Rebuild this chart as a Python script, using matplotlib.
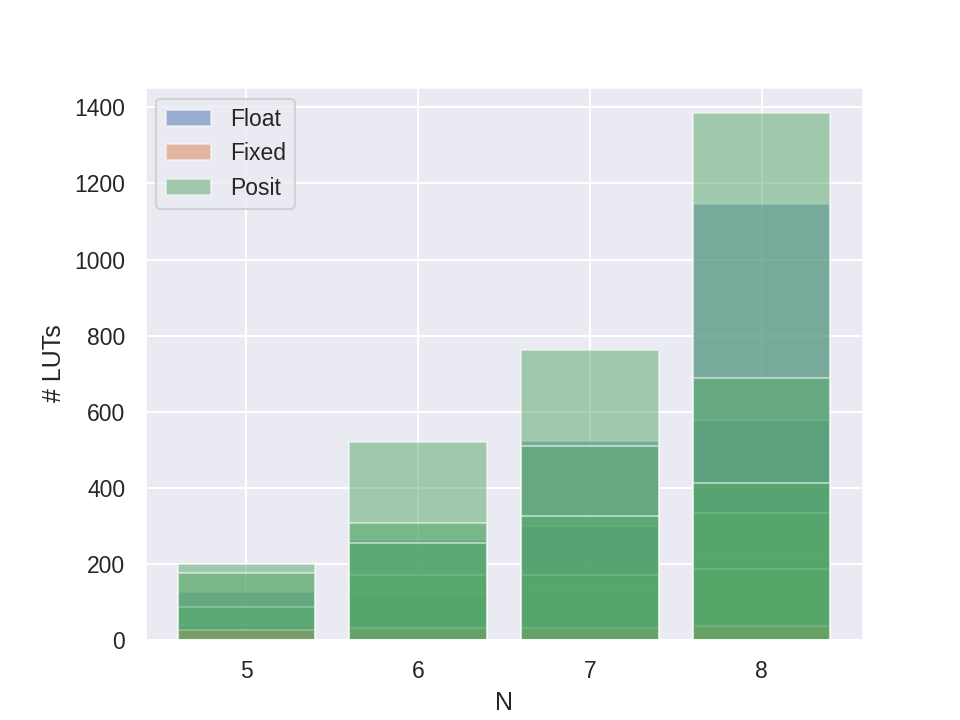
import matplotlib
matplotlib.use("Agg")
import matplotlib.pyplot as plt
import seaborn as sns

sns.set_theme()
plt.rcParams['font.family'] = ['Liberation Sans', 'DejaVu Sans']

# Float configurations (N, #LUTs)
float_n = [5, 5, 6, 6, 7, 7, 7, 8, 8, 8]
float_luts = [127, 39, 263, 118, 523, 299, 127, 1147, 578, 219]

# Fixed configurations
fixed_n = [5, 6, 7, 8]
fixed_luts = [26, 31, 33, 36]

# Posit configurations (drawn in two passes: before / after the fixed bars)
posit_n = [5, 5, 6, 6, 7, 7, 8, 8, 8,
           5, 6, 6, 7, 7, 8, 8]
posit_luts = [201, 88, 520, 171, 762, 171, 1384, 333, 188,
              175, 308, 256, 510, 326, 690, 414]
posit_late = [False] * 9 + [True] * 7

fig = plt.figure(figsize=(6.4, 4.8), dpi=150)
ax = fig.add_subplot(111)
fig.subplots_adjust(left=0.151, right=0.899, top=0.879, bottom=0.111)

colors = sns.color_palette()
h_float = ax.bar(float_n, float_luts, alpha=0.5, color=colors[0], label='Float')
early = [(n, v) for n, v, l in zip(posit_n, posit_luts, posit_late) if not l]
late = [(n, v) for n, v, l in zip(posit_n, posit_luts, posit_late) if l]
h_posit = ax.bar([e[0] for e in early], [e[1] for e in early], alpha=0.5,
                 color=colors[2], label='Posit')
h_fixed = ax.bar(fixed_n, fixed_luts, alpha=0.5, color=colors[1], label='Fixed')
ax.bar([e[0] for e in late], [e[1] for e in late], alpha=0.5, color=colors[2])

ax.set_xticks([5, 6, 7, 8])
ax.set_xlabel('N')
ax.set_ylabel('# LUTs')
ax.legend(handles=[h_float, h_fixed, h_posit], labels=['Float', 'Fixed', 'Posit'],
          loc='upper left')

fig.savefig('out.png', dpi=150)
